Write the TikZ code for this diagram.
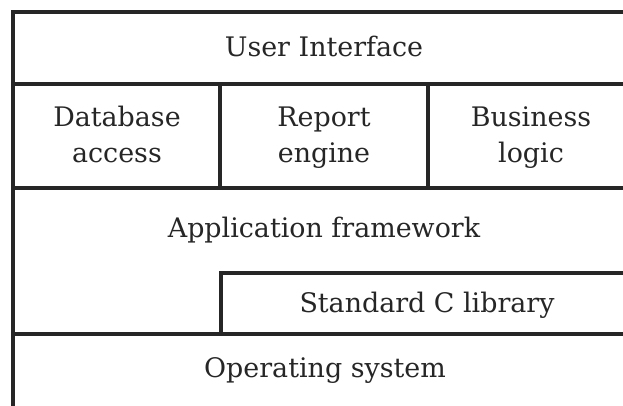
\documentclass[tikz,border=0pt]{standalone}
\usepackage{fontspec}
\setmainfont{DejaVu Serif}
\begin{document}
\begin{tikzpicture}[x=1bp,y=-1bp,
  frame/.style={line width=3.5bp,black!85,line cap=rect},
  lbl/.style={font=\fontsize{27}{36}\selectfont,text=black!85,align=center,inner sep=0pt,anchor=base}]
\useasboundingbox (0,0) rectangle (623,405);
% outer frame (right and bottom edges fall outside the picture)
\draw[frame] (640,12) -- (13,12) -- (13,412);
% horizontal layers
\draw[frame] (13,84) -- (640,84);
\draw[frame] (13,188) -- (640,188);
\draw[frame] (13,334) -- (640,334);
% verticals in middle row
\draw[frame] (220,84) -- (220,188);
\draw[frame] (428,84) -- (428,188);
% standard C library box
\draw[frame] (221,334) -- (221,273) -- (640,273);
% labels
\node[lbl] (ui) at (324,56) {User Interface};
\node[lbl] (db) at (117,162) {Database\\access};
\node[lbl] (re) at (324,162) {Report\\engine};
\node[lbl] (bl) at (531,162) {Business\\logic};
\node[lbl] (af) at (324,237) {Application framework};
\node[lbl] (sc) at (427,312) {Standard C library};
\node[lbl] (os) at (325,377) {Operating system};
\end{tikzpicture}
\end{document}
